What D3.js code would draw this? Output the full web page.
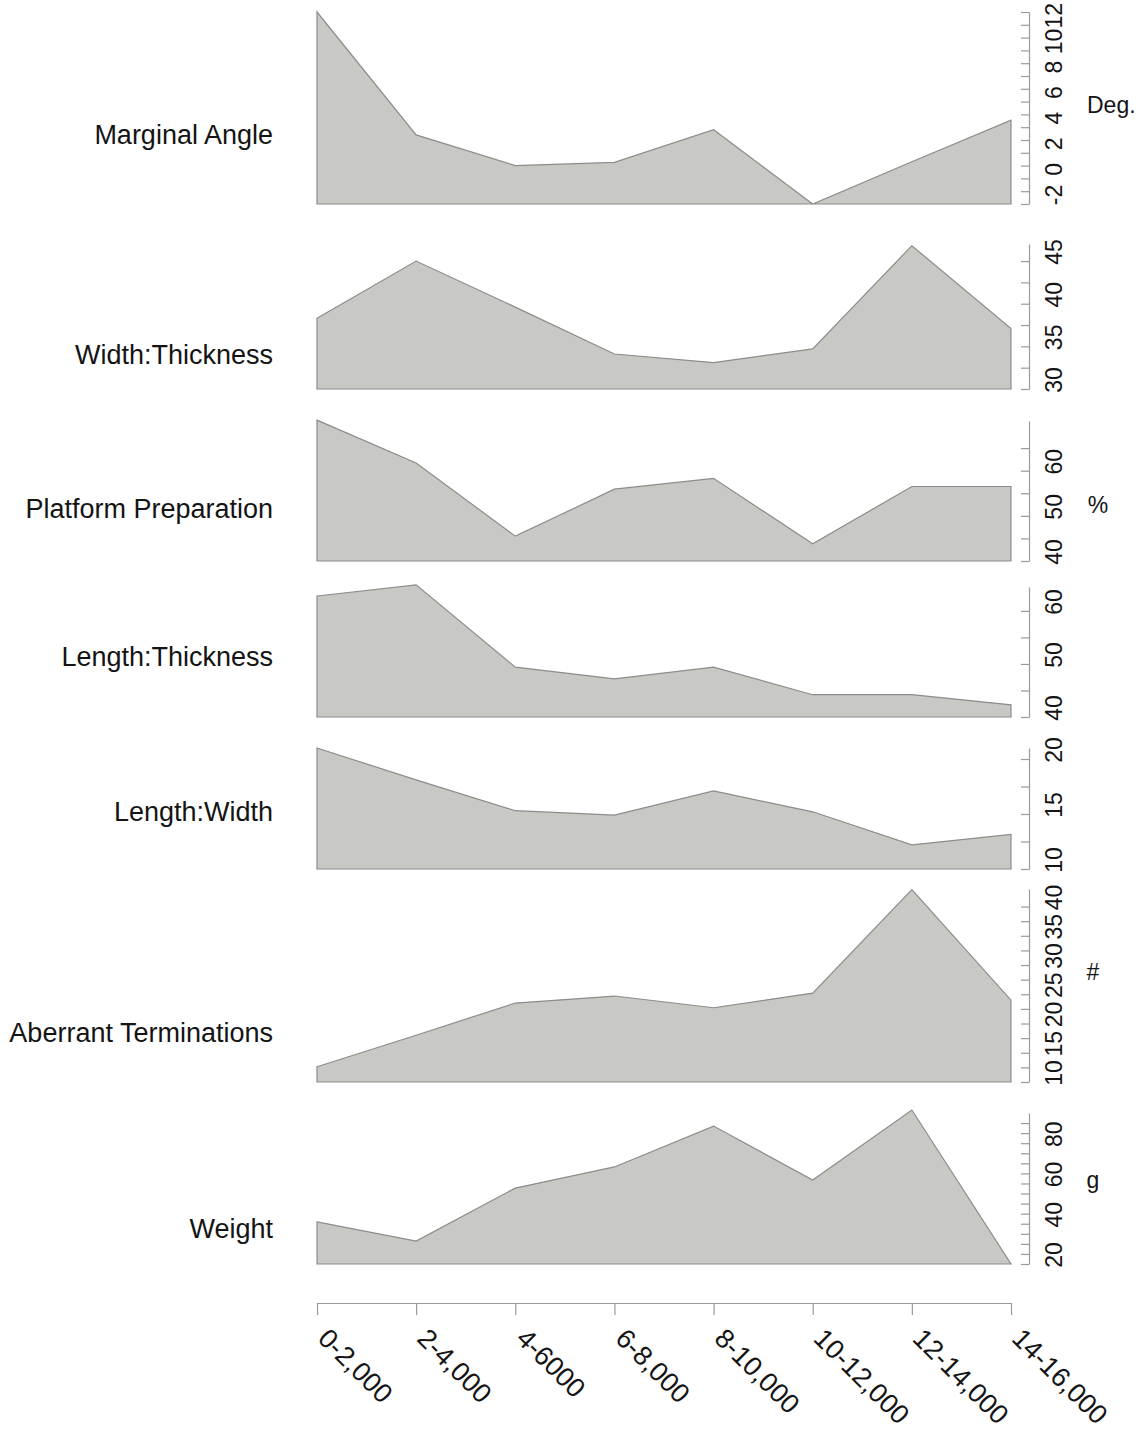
<!DOCTYPE html>
<html>
<head>
<meta charset="utf-8">
<script src="https://cdn.jsdelivr.net/npm/d3@7"></script>
<style>
  html, body { margin: 0; padding: 0; background: #ffffff; }
  svg { display: block; font-family: "Liberation Sans", Arial, Helvetica, sans-serif; }
</style>
</head>
<body>
<svg id="chart" width="1145" height="1431"></svg>
<script>
// ---------------- DATA ----------------
const categories = ["0-2,000", "2-4,000", "4-6000", "6-8,000", "8-10,000", "10-12,000", "12-14,000", "14-16,000"];
const variables = ["Marginal Angle", "Width:Thickness", "Platform Preparation", "Length:Thickness", "Length:Width", "Aberrant Terminations", "Weight"];
const units = ["Deg.", "", "%", "", "", "#", "g"];

const marginalAngle       = [13.0, 3.4, 1.0, 1.25, 3.8, -2.0, 1.3, 4.55];
const widthThickness      = [38.3, 45.0, 39.6, 34.1, 33.1, 34.7, 46.8, 37.1];
const platformPreparation = [71.2, 61.7, 45.5, 55.9, 58.3, 43.8, 56.5, 56.5];
const lengthThickness     = [62.8, 64.9, 49.4, 47.2, 49.4, 44.2, 44.2, 42.3];
const lengthWidth         = [21.0, 18.1, 15.3, 14.9, 17.1, 15.2, 12.2, 13.15];
const aberrantTerminations= [12.6, 18.0, 23.5, 24.7, 22.7, 25.2, 42.9, 24.0];
const weight              = [40.9, 31.4, 57.7, 68.2, 88.5, 61.7, 96.5, 20.0];

// axis domains (min = baseline of the filled area, max = top of the axis line)
const domainMA = [-2, 13], domainWT = [30, 47], domainPP = [40, 71], domainLT = [40, 64.5],
      domainLW = [10, 21], domainAT = [10, 43], domainWG = [20, 95];
// tick marks and tick labels
const ticksMA = [-2, -1, 0, 1, 2, 3, 4, 5, 6, 7, 8, 9, 10, 11, 12, 13];
const labelsMA = [-2, 0, 2, 4, 6, 8, 10, 12];
const ticksWT = [30, 32.5, 35, 37.5, 40, 42.5, 45];
const labelsWT = [30, 35, 40, 45];
const ticksPP = [40, 45, 50, 55, 60, 65];
const labelsPP = [40, 50, 60];
const ticksLT = [40, 45, 50, 55, 60];
const labelsLT = [40, 50, 60];
const ticksLW = [10, 12.5, 15, 17.5, 20];
const labelsLW = [10, 15, 20];
const ticksAT = [10, 12.5, 15, 17.5, 20, 22.5, 25, 27.5, 30, 32.5, 35, 37.5, 40];
const labelsAT = [10, 15, 20, 25, 30, 35, 40];
const ticksWG = [20, 25, 30, 35, 40, 45, 50, 55, 60, 65, 70, 75, 80, 85, 90];
const labelsWG = [20, 40, 60, 80];

// ---------------- LAYOUT ----------------
const panels = [
  { name: variables[0], unit: units[0], values: marginalAngle,        domain: domainMA, ticks: ticksMA, labels: labelsMA, range: [204, 12],   labelY: 135 },
  { name: variables[1], unit: units[1], values: widthThickness,       domain: domainWT, ticks: ticksWT, labels: labelsWT, range: [389, 244],  labelY: 355 },
  { name: variables[2], unit: units[2], values: platformPreparation,  domain: domainPP, ticks: ticksPP, labels: labelsPP, range: [561, 421],  labelY: 509 },
  { name: variables[3], unit: units[3], values: lengthThickness,      domain: domainLT, ticks: ticksLT, labels: labelsLT, range: [717, 587],  labelY: 657 },
  { name: variables[4], unit: units[4], values: lengthWidth,          domain: domainLW, ticks: ticksLW, labels: labelsLW, range: [869, 748],  labelY: 812 },
  { name: variables[5], unit: units[5], values: aberrantTerminations, domain: domainAT, ticks: ticksAT, labels: labelsAT, range: [1082, 889], labelY: 1033 },
  { name: variables[6], unit: units[6], values: weight,               domain: domainWG, ticks: ticksWG, labels: labelsWG, range: [1264, 1113], labelY: 1229 }
];
const unitPos = { "Deg.": [1087, 105, "start"], "%": [1098, 505, "middle"], "#": [1093, 972, "middle"], "g": [1093, 1180, "middle"] };

const svg = d3.select("#chart");
const x = d3.scalePoint().domain(categories).range([317, 1011]);
const axisX = 1029;
const fillCol = "#c8c8c4", strokeCol = "#8c8c8a", axisCol = "#9a9a9a", textCol = "#141414";

panels.forEach(p => {
  const y = d3.scaleLinear().domain(p.domain).range(p.range);
  const area = d3.area()
    .x((d, i) => x(categories[i]))
    .y0(y(p.domain[0]))
    .y1(d => y(d));
  svg.append("path")
    .datum(p.values)
    .attr("d", d => area(d) + "Z")
    .attr("fill", fillCol)
    .attr("stroke", strokeCol)
    .attr("stroke-width", 1.2)
    .attr("stroke-linejoin", "miter");

  // right axis (ticks pointing inward)
  const ax = svg.append("g")
    .attr("transform", `translate(${axisX},0)`)
    .call(d3.axisLeft(y).tickValues(p.ticks).tickSize(8).tickSizeOuter(0).tickFormat(""));
  ax.select(".domain").attr("stroke", axisCol).attr("stroke-width", 1.2);
  ax.selectAll(".tick line").attr("stroke", axisCol).attr("stroke-width", 1.2);

  svg.append("g").selectAll("text")
    .data(p.labels)
    .join("text")
    .attr("transform", d => `translate(1054,${y(d) - 9}) rotate(-90)`)
    .attr("text-anchor", "middle")
    .attr("dominant-baseline", "central")
    .attr("font-size", 23)
    .attr("fill", textCol)
    .text(d => d);

  // variable name
  svg.append("text")
    .attr("x", 273)
    .attr("y", p.labelY)
    .attr("text-anchor", "end")
    .attr("dominant-baseline", "central")
    .attr("font-size", 27)
    .attr("fill", textCol)
    .text(p.name);

  if (p.unit) {
    const u = unitPos[p.unit];
    svg.append("text")
      .attr("x", u[0]).attr("y", u[1])
      .attr("text-anchor", u[2])
      .attr("dominant-baseline", "central")
      .attr("font-size", 23)
      .attr("fill", textCol)
      .text(p.unit);
  }
});

// bottom axis
const bx = svg.append("g")
  .attr("transform", "translate(0,1303)")
  .call(d3.axisBottom(x).tickSize(12).tickSizeOuter(0));
bx.select(".domain").attr("stroke", axisCol).attr("stroke-width", 1.2);
bx.selectAll(".tick line").attr("stroke", axisCol).attr("stroke-width", 1.2);
bx.selectAll(".tick text")
  .attr("x", 0).attr("y", 0).attr("dy", 0)
  .attr("transform", "translate(-1,37) rotate(45)")
  .attr("text-anchor", "start")
  .attr("font-size", 27)
  .attr("font-family", "Liberation Sans, Arial, sans-serif")
  .attr("fill", textCol);
</script>
</body>
</html>
